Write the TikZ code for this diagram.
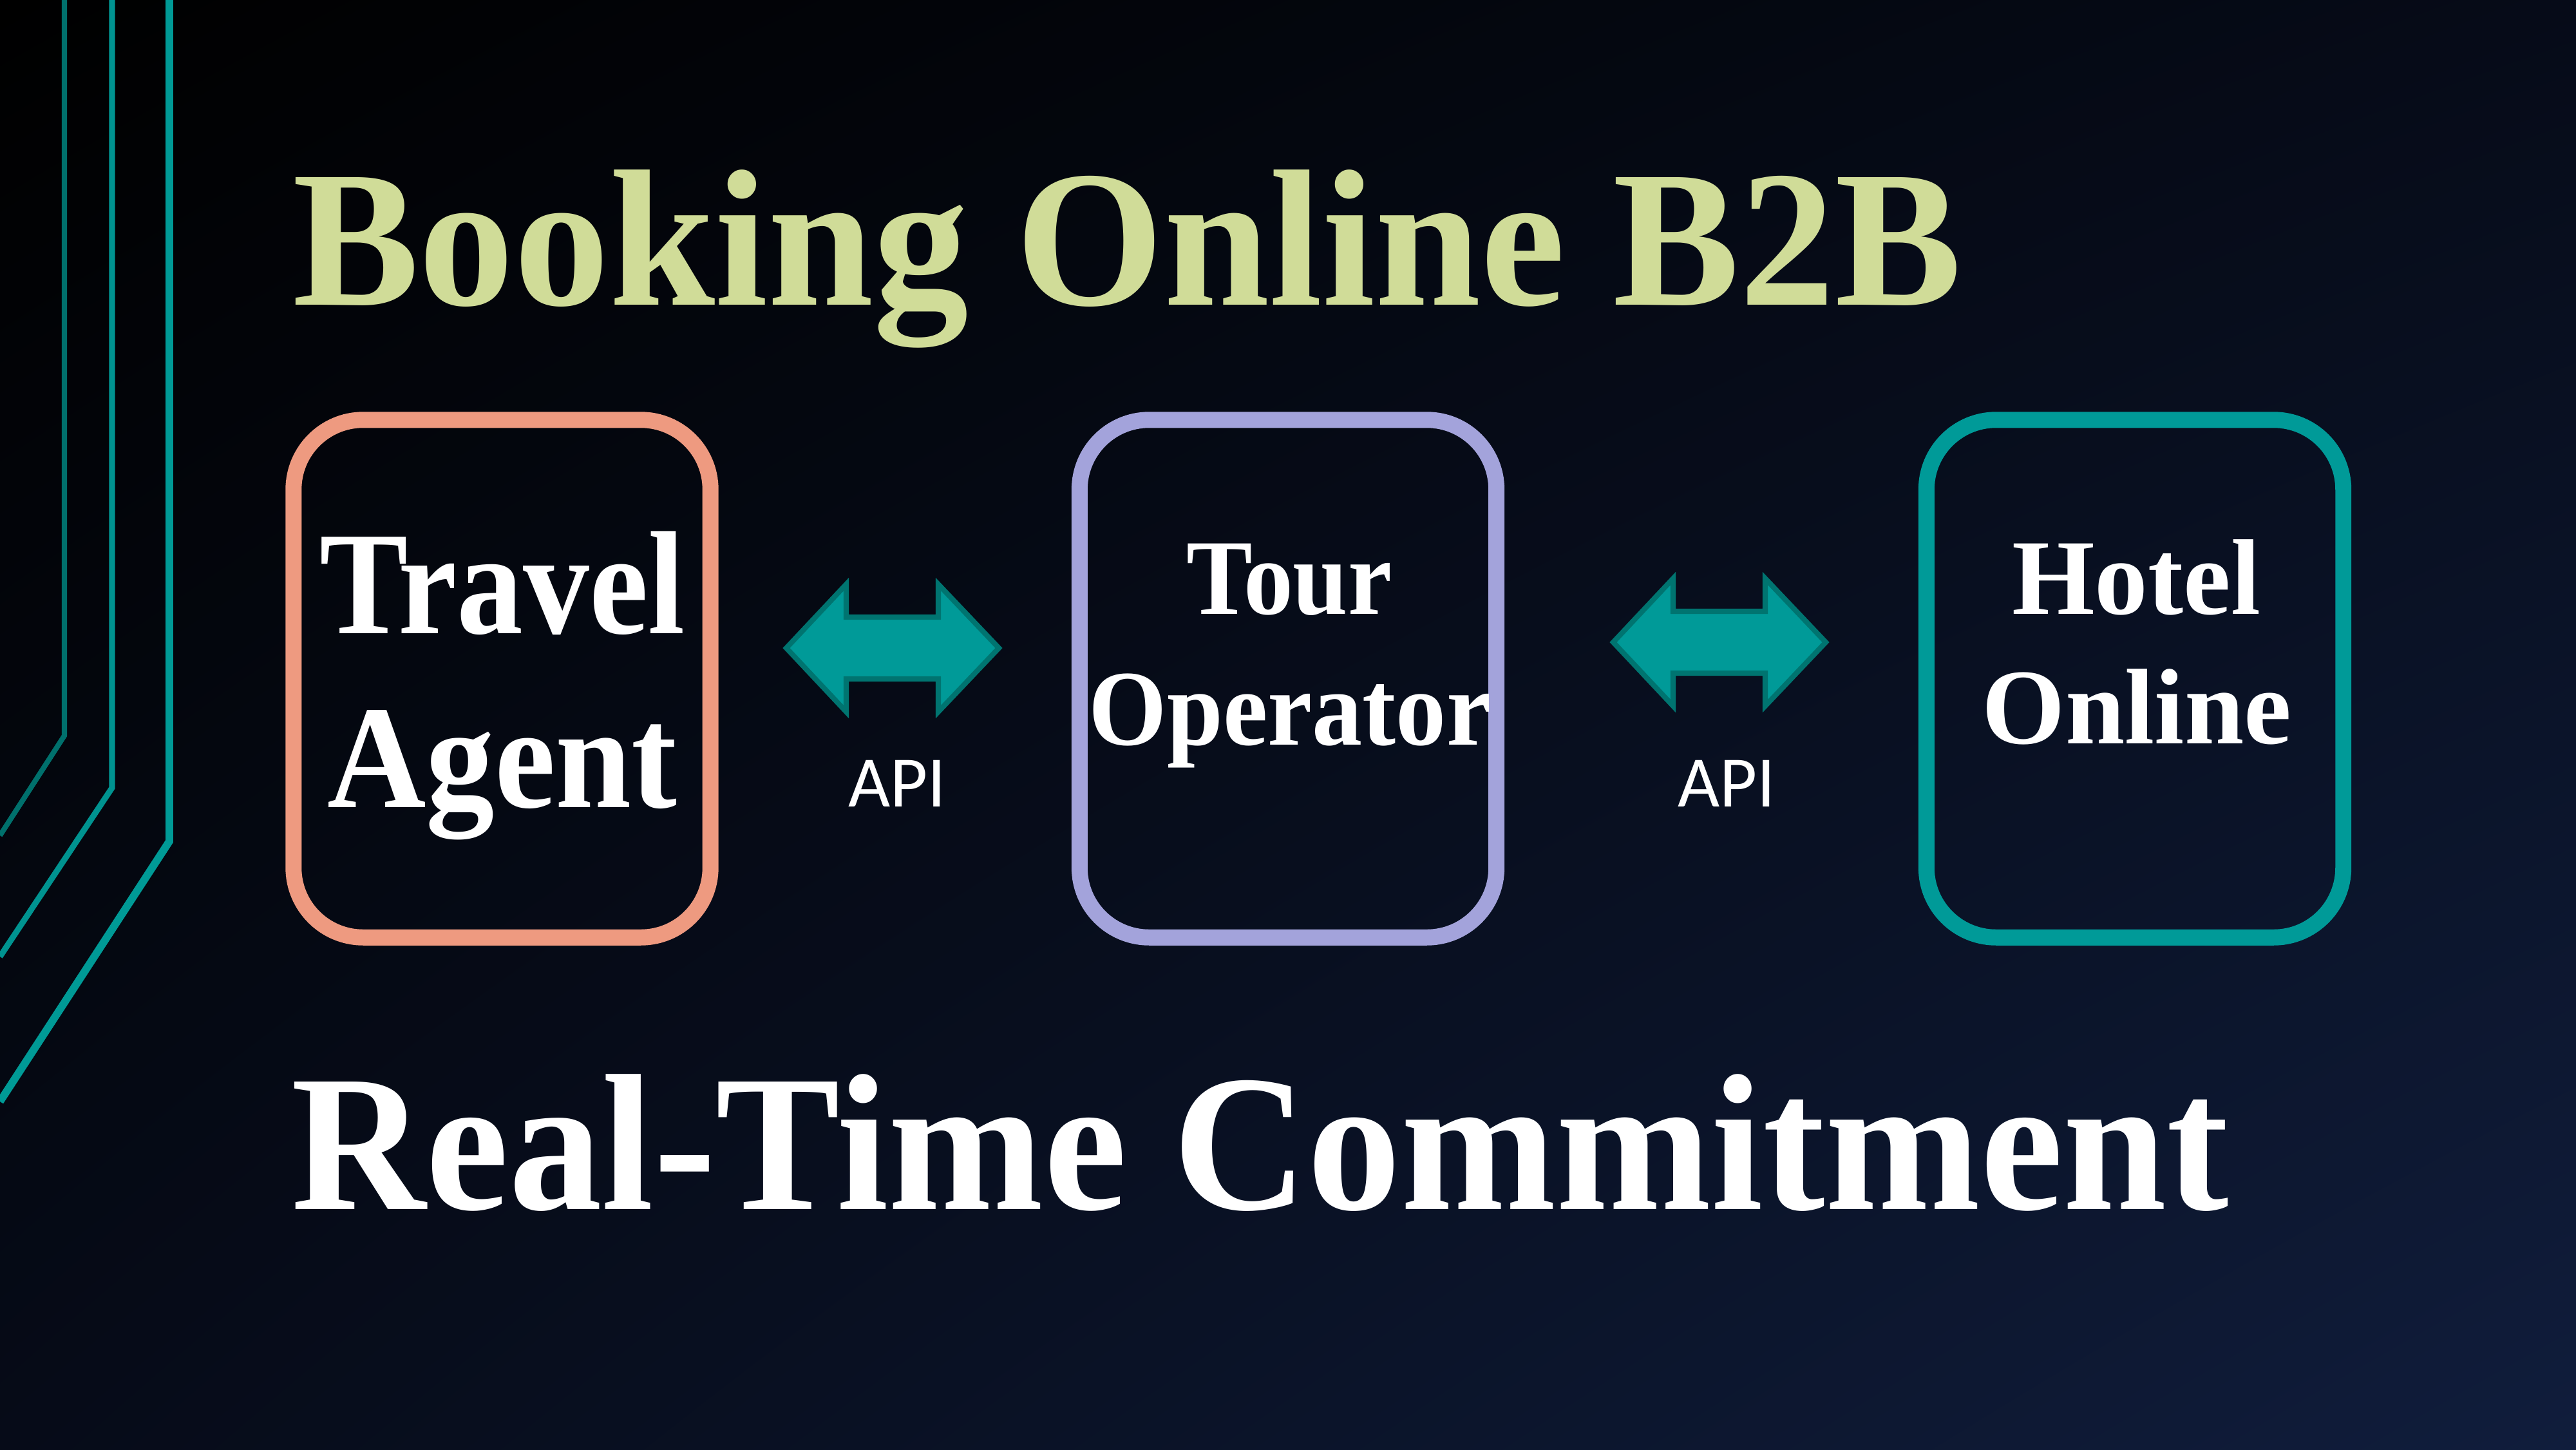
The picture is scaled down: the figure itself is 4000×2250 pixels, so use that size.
\documentclass[tikz,border=0pt]{standalone}
\usepackage{fontspec}
\setmainfont{Liberation Serif}
\newfontfamily\apifont{Carlito}
\usetikzlibrary{calc,shadings}
\definecolor{bgUR}{RGB}{6,11,24}
\definecolor{bgLL}{RGB}{6,11,24}
\definecolor{bgLR}{RGB}{16,29,60}
\definecolor{titlegreen}{RGB}{208,220,152}
\definecolor{salmon}{RGB}{238,154,128}
\definecolor{lavender}{RGB}{163,163,219}
\definecolor{tealbox}{RGB}{0,154,152}
\definecolor{tealfill}{RGB}{0,154,152}
\definecolor{tealedge}{RGB}{0,116,112}
\definecolor{lineA}{RGB}{0,112,108}
\definecolor{lineB}{RGB}{0,147,144}
\definecolor{lineC}{RGB}{0,154,150}
\begin{document}
\begin{tikzpicture}[x=0.01cm,y=-0.01cm,
  boxstyle/.style={draw, line width=7.1pt, rounded corners=1.08cm,
    minimum width=6.47cm, minimum height=8.03cm, inner sep=0pt},
  bigtxt/.style={text=white, inner sep=0pt, anchor=base,
    font=\bfseries\fontsize{65}{78}\selectfont},
  midtxt/.style={text=white, inner sep=0pt, anchor=base,
    font=\bfseries\fontsize{47.5}{57}\selectfont},
  headtxt/.style={inner sep=0pt, anchor=base,
    font=\bfseries\fontsize{86}{100}\selectfont},
  apitxt/.style={text=white, inner sep=0pt, anchor=base,
    font=\apifont\fontsize{32}{38}\selectfont},
  apiarrow/.style={fill=tealfill, draw=tealedge, line width=2.3pt, line join=miter},
  deco/.style={line join=miter}
]
\useasboundingbox (0,0) rectangle (4000,2250);
\shade[upper left=black, upper right=bgUR, lower left=bgLL, lower right=bgLR]
  (0,0) rectangle (4000,2250);

% decorative lines at left
\draw[deco, lineA, line width=2.3pt] (100,-20) -- (100,1142) -- (0,1297);
\draw[deco, lineB, line width=2.6pt] (174,-20) -- (174,1223) -- (0,1485);
\draw[deco, lineC, line width=3.4pt] (263,-20) -- (263,1306) -- (0,1710);

% title
\node[headtxt, text=titlegreen, xscale=0.976] (title) at (1750,473) {Booking Online B2B};

% boxes
\node[boxstyle, draw=salmon] (ta) at (779.5,1053.5) {};
\node[boxstyle, draw=lavender] (to) at (2000,1053.5) {};
\node[boxstyle, draw=tealbox] (ho) at (3315,1053.5) {};

% box texts
\node[bigtxt, xscale=0.9] (ta1) at (780,983) {Travel};
\node[bigtxt, xscale=0.93] (ta2) at (780,1253) {Agent};
\node[midtxt, xscale=0.92] (to1) at (2002,953) {Tour};
\node[midtxt, xscale=0.935] (to2) at (2003,1156) {Operator};
\node[midtxt, xscale=0.99] (ho1) at (3317,953) {Hotel};
\node[midtxt, xscale=0.995] (ho2) at (3318,1154) {Online};

% API arrows
\coordinate (ar1) at (1386,1006);
\coordinate (ar2) at (2670,997);
\foreach \c in {ar1,ar2}{
  \draw[apiarrow] ($(\c)+(-165,0)$) -- ++(93,-99) -- ++(0,51) -- ++(143,0)
    -- ++(0,-51) -- ++(94,99) -- ++(-94,99) -- ++(0,-51) -- ++(-143,0)
    -- ++(0,51) -- cycle;
}
\node[apitxt] (api1) at (1393,1252) {API};
\node[apitxt] (api2) at (2681,1252) {API};

% bottom text
\node[headtxt, text=white, xscale=0.957] (rt) at (1957,1877) {Real-Time Commitment};
\end{tikzpicture}
\end{document}
